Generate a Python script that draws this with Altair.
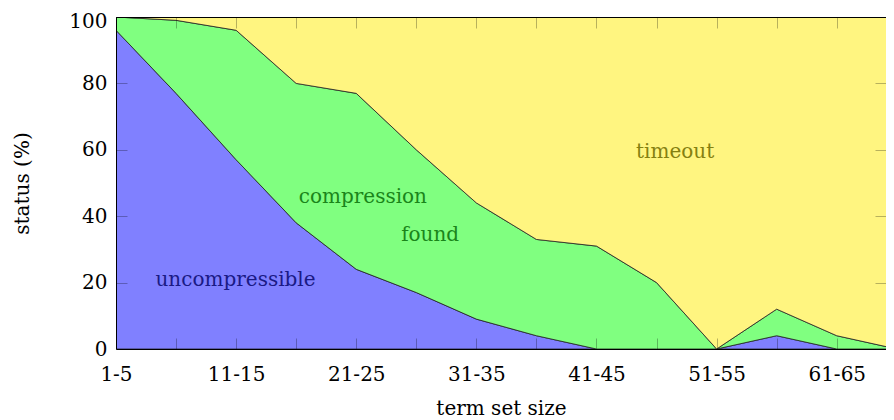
import altair as alt
import pandas as pd

categories = ["1-5", "6-10", "11-15", "16-20", "21-25", "26-30", "31-35",
              "36-40", "41-45", "46-50", "51-55", "56-60", "61-65", "66-70"]
uncompressible = [96, 77, 57, 38, 24, 17, 9, 4, 0, 0, 0, 4, 0, 0]
compression_found = [4, 22, 39, 42, 53, 43, 35, 29, 31, 20, 0, 8, 4, 0]
timeout = [0, 1, 4, 20, 23, 40, 56, 67, 69, 80, 100, 88, 96, 100]

statuses = ["uncompressible", "compression found", "timeout"]
fill_colors = ["#8080FF", "#80FF80", "#FFF580"]

label_text = ["uncompressible", "compression", "found", "timeout"]
label_x = [1.99, 4.11, 5.23, 9.31]
label_y = [18.9, 43.9, 32.4, 57.6]
label_color = ["#1a1a85", "#1a851a", "#858010"]
label_colors = [label_color[0], label_color[1], label_color[1], label_color[2]]

rows = []
for i, cat in enumerate(categories):
    for k, (name, series) in enumerate(zip(statuses, [uncompressible, compression_found, timeout])):
        rows.append({"idx": i, "category": cat, "status": name, "value": series[i], "ord": k})
df = pd.DataFrame(rows)

labels_df = pd.DataFrame({"text": label_text, "x": label_x, "y": label_y, "color": label_colors})

W, H = 770, 332
FONT = "DejaVu Serif"
FS = 20

xscale = alt.Scale(domain=[0, 12.82], nice=False, zero=False)
yscale = alt.Scale(domain=[0, 100], nice=False)

cat_arr = "[" + ",".join("'%s'" % c for c in categories) + "]"
label_expr = "datum.value % 2 == 0 ? " + cat_arr + "[datum.value] : ''"

tick_common = dict(labels=False, title=None, ticks=True, tickSize=11, tickColor="black",
                   tickOpacity=0.28, tickWidth=1, domain=True, domainColor="black",
                   domainWidth=1, zindex=1, grid=False)

area = alt.Chart(df).mark_area(stroke="#222222", strokeWidth=0.8, clip=True,
                               interpolate="linear", opacity=1).encode(
    x=alt.X("idx:Q", scale=xscale,
            axis=alt.Axis(orient="bottom", values=list(range(13)), labelExpr=label_expr,
                          ticks=False, domain=False, labelFlush=False, labelOverlap=False,
                          labelFont=FONT, labelFontSize=FS, labelColor="black",
                          labelPadding=15, title="term set size", titleFont=FONT,
                          titleFontSize=FS, titleFontWeight="normal", titleColor="black",
                          titlePadding=14, grid=False)),
    y=alt.Y("value:Q", stack="zero", scale=yscale,
            axis=alt.Axis(orient="left", values=[0, 20, 40, 60, 80, 100], ticks=False,
                          domain=False, labelFlush=False, labelOverlap=False,
                          labelOffset={"condition": {"test": "datum.value == 100", "value": 4},
                                       "value": 0},
                          labelFont=FONT, labelFontSize=FS, labelColor="black",
                          labelPadding=9, title="status (%)", titleFont=FONT,
                          titleFontSize=FS, titleFontWeight="normal", titleColor="black",
                          titlePadding=36, grid=False)),
    color=alt.Color("status:N", scale=alt.Scale(domain=statuses, range=fill_colors), legend=None),
    order=alt.Order("ord:Q"),
)

texts = alt.Chart(labels_df).mark_text(font=FONT, fontSize=FS, align="center",
                                       baseline="alphabetic").encode(
    x=alt.X("x:Q", scale=xscale, axis=None),
    y=alt.Y("y:Q", scale=yscale, axis=None),
    text="text:N",
    color=alt.Color("color:N", scale=None),
)

ticks_a = alt.Chart(df).mark_point(opacity=0).encode(
    x=alt.X("idx:Q", scale=xscale,
            axis=alt.Axis(orient="top", offset=-H, values=list(range(13)), **tick_common)),
    y=alt.Y("value:Q", scale=yscale,
            axis=alt.Axis(orient="right", offset=-W, values=[0, 20, 40, 60, 80, 100], **tick_common)),
)

ticks_b = alt.Chart(df).mark_point(opacity=0).encode(
    x=alt.X("idx:Q", scale=xscale,
            axis=alt.Axis(orient="bottom", offset=-H, values=list(range(13)), **tick_common)),
    y=alt.Y("value:Q", scale=yscale,
            axis=alt.Axis(orient="left", offset=-W, values=[0, 20, 40, 60, 80, 100], **tick_common)),
)

chart = alt.layer(area, texts, ticks_a, ticks_b).resolve_axis(
    x="independent", y="independent"
).properties(
    width=W, height=H,
    autosize=alt.AutoSizeParams(type="none"),
    padding={"left": 108, "top": 9, "right": 0, "bottom": 71},
    background="white",
).configure_view(strokeWidth=0)

chart.save("out.html", embed_options={"renderer": "svg", "actions": False})
